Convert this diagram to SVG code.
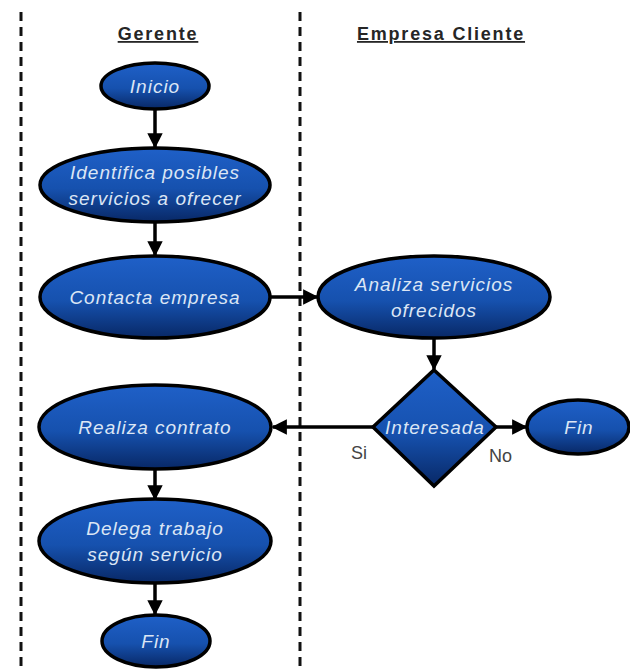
<svg xmlns="http://www.w3.org/2000/svg" width="630" height="671" viewBox="0 0 630 671">
  <style>
    .lane { stroke: #111; stroke-width: 3; stroke-dasharray: 9 6; fill: none; }
    .title { font-family: "Liberation Sans", Arial, sans-serif; font-size: 18px; font-weight: bold; letter-spacing: 1.8px; fill: #262626; text-anchor: middle; text-decoration: underline; }
    .shape { fill: url(#blueFill); stroke: #000; stroke-width: 3.5; }
    .label { font-family: "Liberation Sans", Arial, sans-serif; font-size: 19px; font-style: italic; letter-spacing: 1px; fill: #dce6f5; text-anchor: middle; }
    .edge { stroke: #000; stroke-width: 3.5; fill: none; marker-end: url(#arrow); }
    .branch { font-family: "Liberation Sans", Arial, sans-serif; font-size: 18px; fill: #444; }
  </style>
  <defs>
    <linearGradient id="blueFill" x1="0" y1="0" x2="0" y2="1">
      <stop offset="0" stop-color="#1f60c8"/>
      <stop offset="0.55" stop-color="#1651ae"/>
      <stop offset="1" stop-color="#082866"/>
    </linearGradient>
    <marker id="arrow" viewBox="0 0 10 10" refX="9" refY="5" markerWidth="4.4" markerHeight="4.4" orient="auto" markerUnits="strokeWidth">
      <path d="M0,0 L10,5 L0,10 z" fill="#000"/>
    </marker>
  </defs>

  <!-- swimlane separators and headings -->
  <g id="lanes">
    <line class="lane" x1="21" y1="12" x2="21" y2="671"/>
    <line class="lane" x1="300" y1="12" x2="300" y2="671"/>
    <text class="title" x="158" y="40">Gerente</text>
    <text class="title" x="441" y="40">Empresa Cliente</text>
  </g>

  <!-- connectors -->
  <g id="connectors">
    <line class="edge" x1="155" y1="109" x2="155" y2="147"/>
    <line class="edge" x1="155" y1="222" x2="155" y2="255"/>
    <line class="edge" x1="270" y1="297" x2="317" y2="297"/>
    <line class="edge" x1="434" y1="338" x2="434" y2="369"/>
    <line class="edge" x1="373" y1="427" x2="273" y2="427"/>
    <line class="edge" x1="496" y1="427" x2="526" y2="427"/>
    <line class="edge" x1="155" y1="469" x2="155" y2="499"/>
    <line class="edge" x1="155" y1="583" x2="155" y2="614"/>
    <text class="branch" x="351" y="459">Si</text>
    <text class="branch" x="489" y="462">No</text>
  </g>

  <g id="inicio">
    <ellipse class="shape" cx="155" cy="86" rx="54" ry="23"/>
    <text class="label" x="155" y="93">Inicio</text>
  </g>

  <g id="identifica">
    <ellipse class="shape" cx="155" cy="185" rx="115" ry="37"/>
    <text class="label" x="155" y="179">Identifica posibles</text>
    <text class="label" x="155" y="205">servicios a ofrecer</text>
  </g>

  <g id="contacta">
    <ellipse class="shape" cx="155" cy="297" rx="115" ry="41"/>
    <text class="label" x="155" y="304">Contacta empresa</text>
  </g>

  <g id="analiza">
    <ellipse class="shape" cx="434" cy="297" rx="116" ry="41"/>
    <text class="label" x="434" y="291">Analiza servicios</text>
    <text class="label" x="434" y="317">ofrecidos</text>
  </g>

  <g id="interesada">
    <polygon class="shape" points="434,370 496,427 434,486 373,427"/>
    <text class="label" x="435" y="434">Interesada</text>
  </g>

  <g id="fin-cliente">
    <ellipse class="shape" cx="578" cy="427" rx="51" ry="27"/>
    <text class="label" x="579" y="434">Fin</text>
  </g>

  <g id="realiza">
    <ellipse class="shape" cx="155" cy="427" rx="116" ry="42"/>
    <text class="label" x="155" y="434">Realiza contrato</text>
  </g>

  <g id="delega">
    <ellipse class="shape" cx="155" cy="541" rx="116" ry="42"/>
    <text class="label" x="155" y="535">Delega trabajo</text>
    <text class="label" x="155" y="561">según servicio</text>
  </g>

  <g id="fin-gerente">
    <ellipse class="shape" cx="156" cy="641" rx="54" ry="26"/>
    <text class="label" x="156" y="648">Fin</text>
  </g>
</svg>
